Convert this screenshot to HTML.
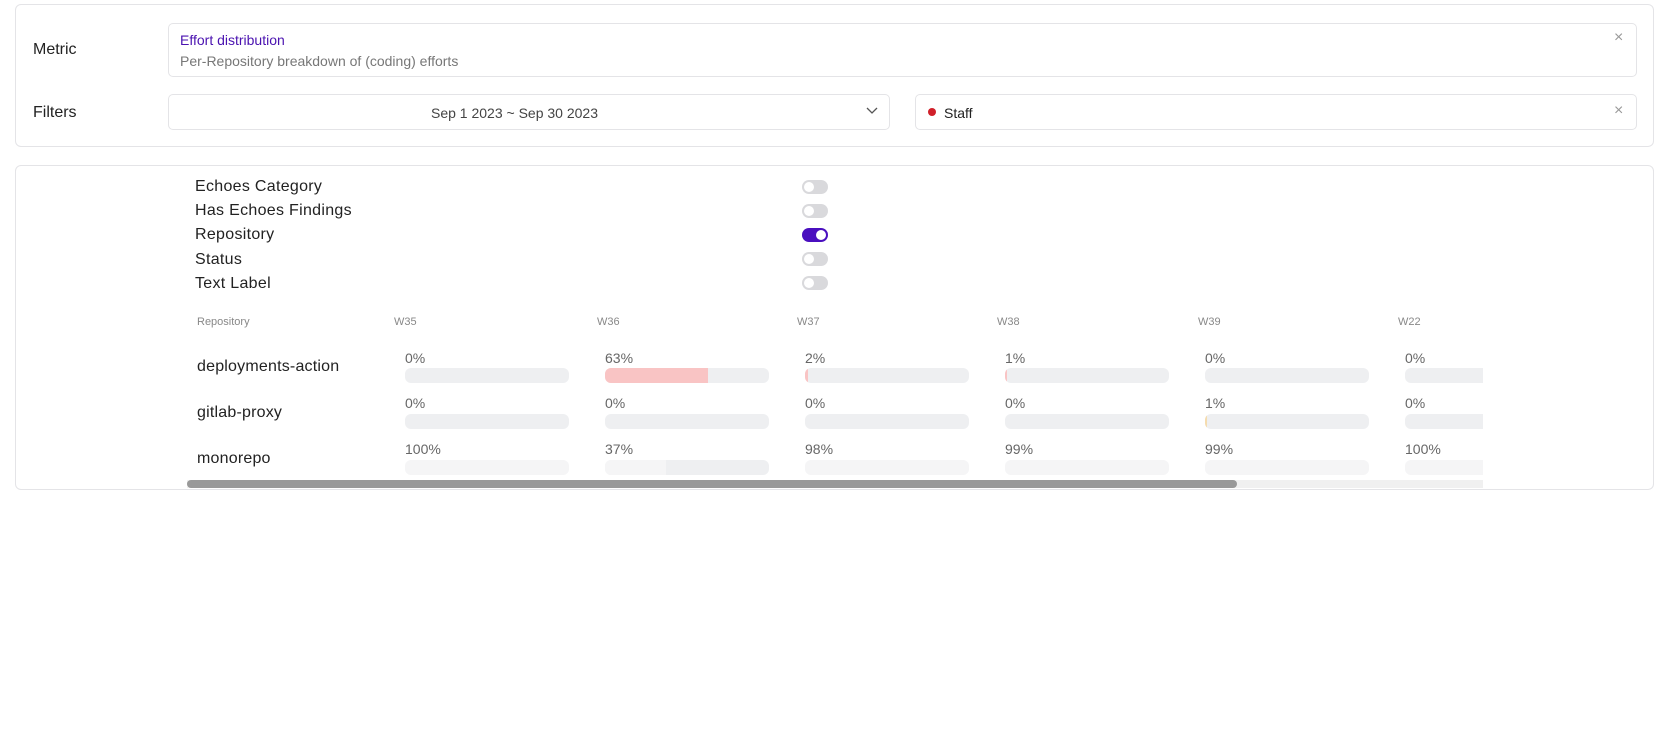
<!DOCTYPE html>
<html><head><style>
*{box-sizing:border-box;margin:0;padding:0}
body{width:1669px;height:729px;background:#fff;font-family:"Liberation Sans",sans-serif;position:relative;overflow:hidden;color:#222}
.a{position:absolute;white-space:nowrap}
.card{position:absolute;border:1px solid #e4e4e7;border-radius:6px;background:#fff}
.box{position:absolute;border:1px solid #e4e4e7;border-radius:5px}
.tg{position:absolute;width:26px;height:14px;border-radius:7px;background:#d9d9dc}
.tg::after{content:"";position:absolute;left:2px;top:2px;width:10px;height:10px;border-radius:50%;background:#fff}
.tg.on{background:#4a0fbf}
.tg.on::after{left:14px}
.bar{position:absolute;height:15px;width:164px;border-radius:6px;background:#eeeff1;overflow:hidden}
.bar.l{background:#f5f5f6}
.fill{position:absolute;left:0;top:0;bottom:0;background:#f9c4c4}
.pct{position:absolute;font-size:14px;color:#666}
.wh{position:absolute;font-size:11px;color:#888;top:316px}
.rl{position:absolute;font-size:16px;color:#222;left:197px;letter-spacing:0.2px}
.tl{position:absolute;font-size:16px;left:195px;letter-spacing:0.3px;white-space:nowrap}
</style></head><body>
<div class="card" style="left:15px;top:4px;width:1639px;height:143px"></div>
<div class="a" style="left:33px;top:41px;font-size:16px">Metric</div>
<div class="box" style="left:168px;top:23px;width:1469px;height:54px"></div>
<div class="a" style="left:180px;top:32px;font-size:14px;color:#4a12b0">Effort distribution</div>
<div class="a" style="left:180px;top:53px;font-size:14px;color:#777">Per-Repository breakdown of (coding) efforts</div>
<div class="a" style="left:1614px;top:29px;font-size:16px;color:#999">×</div>
<div class="a" style="left:33px;top:104px;font-size:16px">Filters</div>
<div class="box" style="left:168px;top:94px;width:722px;height:36px"></div>
<div class="a" style="left:431px;top:105px;font-size:14px;color:#444">Sep 1 2023 ~ Sep 30 2023</div>
<svg class="a" style="left:866px;top:107px" width="12" height="8"><path d="M1 1l5 5 5-5" stroke="#555" fill="none" stroke-width="1.3"/></svg>
<div class="box" style="left:915px;top:94px;width:722px;height:36px"></div>
<div class="a" style="left:928px;top:108px;width:8px;height:8px;border-radius:50%;background:#d0202a"></div>
<div class="a" style="left:944px;top:105px;font-size:14px;color:#222">Staff</div>
<div class="a" style="left:1614px;top:102px;font-size:16px;color:#999">×</div>

<div class="card" style="left:15px;top:165px;width:1639px;height:325px"></div>
<div class="tl" style="top:178px">Echoes Category</div>
<div class="tl" style="top:202px">Has Echoes Findings</div>
<div class="tl" style="top:226px">Repository</div>
<div class="tl" style="top:251px">Status</div>
<div class="tl" style="top:275px">Text Label</div>
<div class="tg" style="left:802px;top:180px"></div>
<div class="tg" style="left:802px;top:204px"></div>
<div class="tg on" style="left:802px;top:228px"></div>
<div class="tg" style="left:802px;top:252px"></div>
<div class="tg" style="left:802px;top:276px"></div>

<div style="position:absolute;left:187px;top:300px;width:1296px;height:190px;overflow:hidden">
<div style="position:absolute;left:-187px;top:-300px;width:1669px;height:729px">
<div class="wh" style="left:197px">Repository</div>
<div class="wh" style="left:394px">W35</div><div class="wh" style="left:597px">W36</div><div class="wh" style="left:797px">W37</div><div class="wh" style="left:997px">W38</div><div class="wh" style="left:1198px">W39</div><div class="wh" style="left:1398px">W22</div>
<div class="rl" style="top:358px">deployments-action</div>
<div class="rl" style="top:404px">gitlab-proxy</div>
<div class="rl" style="top:450px">monorepo</div>

<div class="pct" style="left:405px;top:350px">0%</div><div class="bar" style="left:405px;top:368px"></div>
<div class="pct" style="left:605px;top:350px">63%</div><div class="bar" style="left:605px;top:368px"><div class="fill" style="width:103px;border-radius:0"></div></div>
<div class="pct" style="left:805px;top:350px">2%</div><div class="bar" style="left:805px;top:368px"><div class="fill" style="width:3px"></div></div>
<div class="pct" style="left:1005px;top:350px">1%</div><div class="bar" style="left:1005px;top:368px"><div class="fill" style="width:2px"></div></div>
<div class="pct" style="left:1205px;top:350px">0%</div><div class="bar" style="left:1205px;top:368px"></div>
<div class="pct" style="left:1405px;top:350px">0%</div><div class="bar" style="left:1405px;top:368px"></div>

<div class="pct" style="left:405px;top:395px">0%</div><div class="bar" style="left:405px;top:414px"></div>
<div class="pct" style="left:605px;top:395px">0%</div><div class="bar" style="left:605px;top:414px"></div>
<div class="pct" style="left:805px;top:395px">0%</div><div class="bar" style="left:805px;top:414px"></div>
<div class="pct" style="left:1005px;top:395px">0%</div><div class="bar" style="left:1005px;top:414px"></div>
<div class="pct" style="left:1205px;top:395px">1%</div><div class="bar" style="left:1205px;top:414px"><div class="fill" style="width:2px;background:#f5dcae"></div></div>
<div class="pct" style="left:1405px;top:395px">0%</div><div class="bar" style="left:1405px;top:414px"></div>

<div class="pct" style="left:405px;top:441px">100%</div><div class="bar l" style="left:405px;top:460px"></div>
<div class="pct" style="left:605px;top:441px">37%</div><div class="bar" style="left:605px;top:460px"><div class="fill" style="width:61px;background:#f5f5f6"></div></div>
<div class="pct" style="left:805px;top:441px">98%</div><div class="bar l" style="left:805px;top:460px"></div>
<div class="pct" style="left:1005px;top:441px">99%</div><div class="bar l" style="left:1005px;top:460px"></div>
<div class="pct" style="left:1205px;top:441px">99%</div><div class="bar l" style="left:1205px;top:460px"></div>
<div class="pct" style="left:1405px;top:441px">100%</div><div class="bar l" style="left:1405px;top:460px"></div>
</div></div>
<div class="a" style="left:187px;top:480px;width:1296px;height:8px;background:#f0f0f0"></div>
<div class="a" style="left:187px;top:480px;width:1050px;height:8px;border-radius:4px;background:#999"></div>
</body></html>
